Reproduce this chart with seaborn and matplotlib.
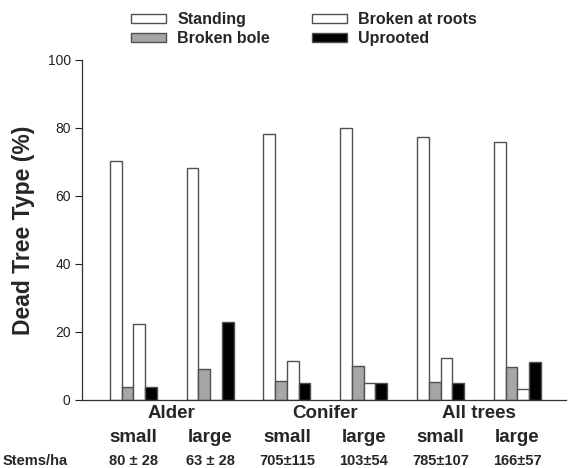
import matplotlib
matplotlib.use("Agg")
import matplotlib.pyplot as plt
import matplotlib.transforms as mtransforms
from matplotlib.patches import Patch
import seaborn as sns
import pandas as pd

groups = ["Alder small", "Alder large", "Conifer small", "Conifer large", "All small", "All large"]
types = ["Standing", "Broken bole", "Broken at roots", "Uprooted"]
standing = [70.3, 68.2, 78.2, 80.0, 77.4, 75.9]
broken_bole = [3.7, 9.1, 5.5, 10.0, 5.3, 9.6]
broken_roots = [22.3, 0.0, 11.4, 5.0, 12.4, 3.2]
uprooted = [3.7, 22.8, 5.0, 5.0, 5.0, 11.3]
size_labels = ["small", "large", "small", "large", "small", "large"]
species_labels = ["Alder", "Conifer", "All trees"]
stems = ["80 \u00b1 28", "63 \u00b1 28", "705\u00b1115", "103\u00b154", "785\u00b1107", "166\u00b157"]
colors = ["white", "#a6a6a6", "white", "black"]

rows = []
for series_name, vals in zip(types, [standing, broken_bole, broken_roots, uprooted]):
    for g, v in zip(groups, vals):
        rows.append({"group": g, "type": series_name, "value": v})
df = pd.DataFrame(rows)

sns.set_style("ticks")
plt.rcParams["font.family"] = ["Liberation Sans", "DejaVu Sans"]

fig = plt.figure(figsize=(5.68, 4.68), dpi=100)
ax = fig.add_axes([0.144, 0.1453, 0.852, 0.727])
sns.barplot(data=df, x="group", y="value", hue="type", order=groups, hue_order=types,
            palette=colors, edgecolor="#505050", linewidth=1.0, width=0.61, gap=0,
            ax=ax, legend=False)

ax.set_ylim(0, 100)
ax.set_xlim(-0.67, 5.63)
ax.set_yticks([0, 20, 40, 60, 80, 100])
ax.tick_params(axis="y", labelsize=10, length=5, width=0.8, colors="#222222", direction="out", pad=3)
ax.set_xticks([])
ax.set_xlabel("")
ax.set_ylabel("Dead Tree Type (%)", fontsize=16.5, fontweight="bold", labelpad=9)
for s in ["top", "right"]:
    ax.spines[s].set_visible(False)
for s in ["left", "bottom"]:
    ax.spines[s].set_color("#333333")
    ax.spines[s].set_linewidth(0.9)

trans = mtransforms.blended_transform_factory(ax.transData, fig.transFigure)
for i, name in enumerate(species_labels):
    ax.text(2 * i + 0.5, 1 - 413 / 468, name, transform=trans, ha="center", va="center",
            fontsize=13.5, fontweight="bold")
for i, lab in enumerate(size_labels):
    ax.text(i, 1 - 437 / 468, lab, transform=trans, ha="center", va="center",
            fontsize=13.5, fontweight="bold")
    ax.text(i, 1 - 461 / 468, stems[i], transform=trans, ha="center", va="center",
            fontsize=10.5, fontweight="bold")
fig.text(3 / 568, 1 - 461 / 468, "Stems/ha", ha="left", va="center", fontsize=10.5, fontweight="bold")

handles = [Patch(facecolor=c, edgecolor="#505050", linewidth=1.0) for c in colors]
fig.legend(handles, types, ncol=2, loc="upper left", bbox_to_anchor=(131 / 568, 1 - 12 / 468),
           frameon=False, prop={"weight": "bold", "size": 11.5}, handlelength=2.2, handleheight=0.55,
           columnspacing=2.6, handletextpad=0.7, labelspacing=0.25, borderpad=0, borderaxespad=0)

fig.savefig("out.png", dpi=100)
